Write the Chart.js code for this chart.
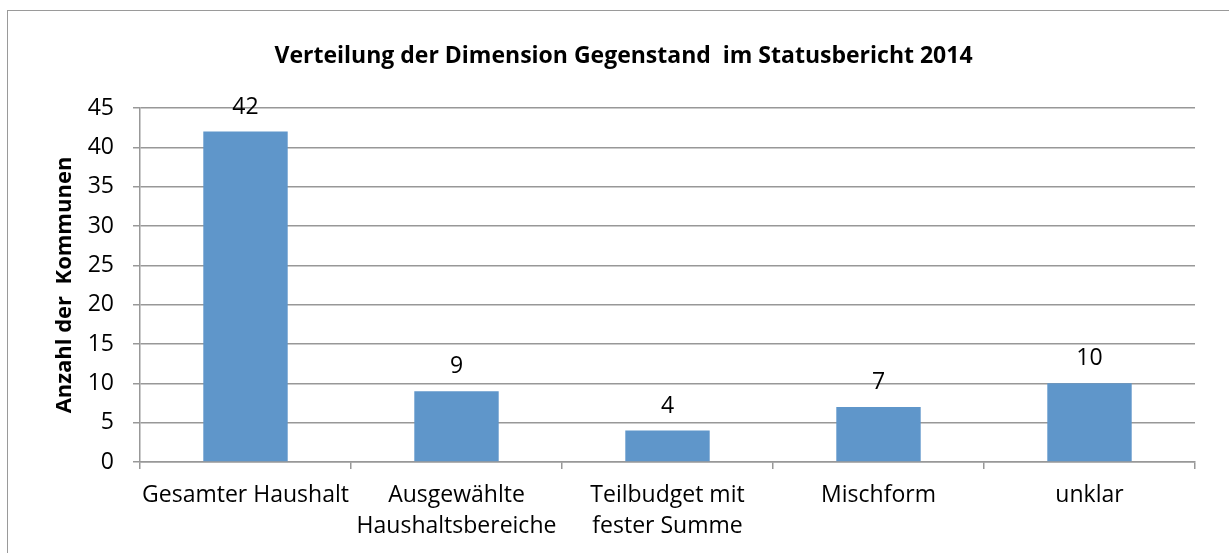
<!DOCTYPE html>
<html lang="de">
<head>
<meta charset="utf-8">
<title>Verteilung der Dimension Gegenstand</title>
<script src="https://cdn.jsdelivr.net/npm/chart.js@4"></script>
<style>
  html, body { margin: 0; padding: 0; background: #fff; }
  #wrap { position: relative; width: 1229px; height: 553px; overflow: hidden; }
  #frame {
    position: absolute; left: 7px; top: 10px; width: 1240px; height: 600px;
    border: 1.5px solid #9a9a9a; box-sizing: border-box;
  }
  canvas { position: absolute; left: 0; top: 0; }
</style>
</head>
<body>
<div id="wrap">
  <div id="frame"></div>
  <canvas id="chart" width="1229" height="553"></canvas>
</div>
<script>
// --- Daten ---
const kategorien = [
    'Gesamter Haushalt',
    ['Ausgewählte', 'Haushaltsbereiche'],
    ['Teilbudget mit', 'fester Summe'],
    'Mischform',
    'unklar'
];
const anzahlKommunen = [42, 9, 4, 7, 10];
const yTicks = [0, 5, 10, 15, 20, 25, 30, 35, 40, 45];

const titel = 'Verteilung der Dimension Gegenstand  im Statusbericht 2014';
const yTitel = 'Anzahl der  Kommunen';

const FONT = "'Open Sans', 'DejaVu Sans', sans-serif";
const GRID = '#989898';

// Zahlen über den Balken
const datenLabels = {
    id: 'datenLabels',
    afterDatasetsDraw(chart) {
        const ctx = chart.ctx;
        const meta = chart.getDatasetMeta(0);
        ctx.save();
        ctx.font = '23px ' + FONT;
        ctx.fillStyle = '#000';
        ctx.textAlign = 'center';
        ctx.textBaseline = 'alphabetic';
        meta.data.forEach((bar, i) => {
            ctx.fillText(String(anzahlKommunen[i]), bar.x, bar.y - 18);
        });
        ctx.restore();
    }
};

new Chart(document.getElementById('chart').getContext('2d'), {
    type: 'bar',
    data: {
        labels: kategorien,
        datasets: [{
            data: anzahlKommunen,
            backgroundColor: '#5f96ca',
            borderWidth: 0,
            barPercentage: 0.4,
            categoryPercentage: 1.0
        }]
    },
    options: {
        responsive: false,
        animation: false,
        layout: { padding: { left: 52, right: 34, top: 0, bottom: 0 } },
        plugins: {
            legend: { display: false },
            tooltip: { enabled: false },
            title: {
                display: true,
                text: titel,
                color: '#000',
                font: { family: FONT, size: 23, weight: 'bold', lineHeight: 1.2 },
                padding: { top: 43, bottom: 37.4 }
            }
        },
        scales: {
            y: {
                min: 0,
                max: 45,
                afterBuildTicks(axis) {
                    axis.ticks = yTicks.map(v => ({ value: v }));
                },
                afterFit(axis) { axis.width = 140 - 52; },
                grid: {
                    color: GRID,
                    lineWidth: 1.5,
                    tickLength: 7
                },
                border: { color: GRID, width: 1.5 },
                ticks: {
                    color: '#000',
                    padding: 19,
                    font: { family: FONT, size: 23 }
                },
                title: {
                    display: true,
                    text: yTitel,
                    color: '#000',
                    font: { family: FONT, size: 22, weight: 'bold' },
                    padding: { top: 0, bottom: 0 }
                }
            },
            x: {
                afterFit(axis) { axis.height = 553 - 462; },
                grid: {
                    offset: true,
                    drawOnChartArea: false,
                    color: GRID,
                    lineWidth: 1.5,
                    tickLength: 7
                },
                border: { color: GRID, width: 1.5 },
                ticks: {
                    color: '#000',
                    padding: 11,
                    maxRotation: 0,
                    autoSkip: false,
                    font: { family: FONT, size: 23, lineHeight: 1.35 }
                }
            }
        }
    },
    plugins: [datenLabels]
});
</script>
</body>
</html>
